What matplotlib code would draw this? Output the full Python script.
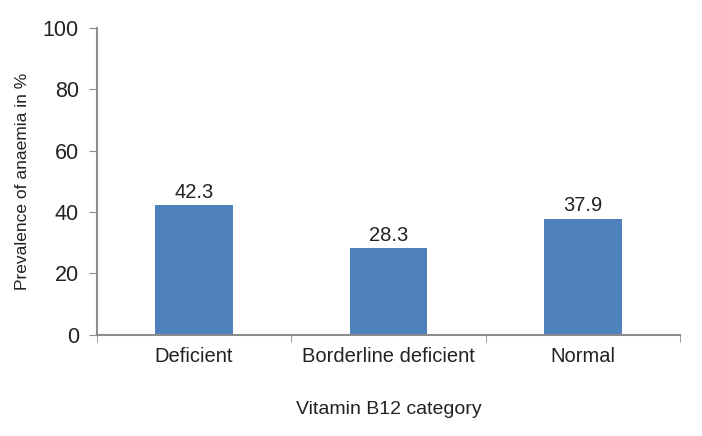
import matplotlib.pyplot as plt

plt.rcParams['font.family'] = ['Liberation Sans', 'DejaVu Sans']

categories = ['Deficient', 'Borderline deficient', 'Normal']
prevalence = [42.3, 28.3, 37.9]

bar_color = '#4F81BD'
axis_color = '#8C8C8C'
text_color = '#222222'

fig = plt.figure(figsize=(7.02, 4.36), dpi=100)
ax = fig.add_axes([0.138, 0.232, 0.831, 0.704])

x = list(range(len(categories)))
ax.bar(x, prevalence, width=0.4, color=bar_color)
for xi, v in zip(x, prevalence):
    ax.text(xi, v + 1.0, f"{v}", ha='center', va='bottom', fontsize=14.5, color=text_color)

ax.set_xlim(-0.5, len(categories) - 0.5)
ax.set_ylim(0, 100)
ax.set_yticks(range(0, 101, 20))
ax.tick_params(axis='y', labelsize=15.5, length=6, color=axis_color, labelcolor=text_color, pad=7)

ax.set_xticks(x)
ax.set_xticklabels(categories, fontsize=14.5, color=text_color)
ax.tick_params(axis='x', length=0, pad=9)
ax.set_xticks([i - 0.5 for i in range(len(categories) + 1)], minor=True)
ax.tick_params(axis='x', which='minor', length=5, color=axis_color)

for side in ['top', 'right']:
    ax.spines[side].set_visible(False)
for side in ['left', 'bottom']:
    ax.spines[side].set_color(axis_color)
    ax.spines[side].set_linewidth(1.5)

ax.set_xlabel('Vitamin B12 category', fontsize=14, color=text_color, labelpad=25)
ax.set_ylabel('Prevalence of anaemia in %', fontsize=12.5, color=text_color, labelpad=9)

fig.savefig('out.png', dpi=100)
